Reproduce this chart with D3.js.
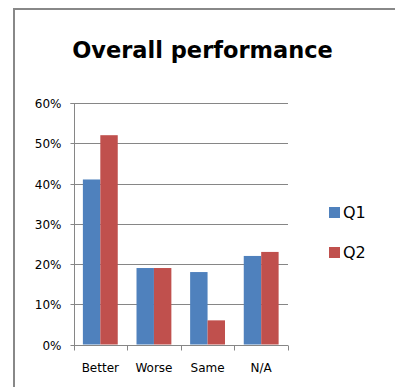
<!DOCTYPE html>
<html>
<head>
<meta charset="utf-8">
<script src="https://cdn.jsdelivr.net/npm/d3@7"></script>
<style>
  html, body { margin: 0; padding: 0; background: #fff; }
  svg { display: block; }
</style>
</head>
<body>
<svg id="chart" width="395" height="387"></svg>
<script>
const title = "Overall performance";
const categories = ["Better", "Worse", "Same", "N/A"];
const seriesNames = ["Q1", "Q2"];
const q1Values = [0.41, 0.19, 0.18, 0.22];
const q2Values = [0.52, 0.19, 0.06, 0.23];
const yTicks = [0, 0.1, 0.2, 0.3, 0.4, 0.5, 0.6];
const colors = ["#4F81BD", "#C0504D"];

const svg = d3.select("#chart");
const W = 395, H = 387;
const plot = { left: 73.5, right: 288, top: 103, bottom: 344.5 };

// Frame (only top and left visible in the crop)
svg.append("path")
  .attr("d", `M14,${H} L14,9 L${W},9`)
  .attr("fill", "none").attr("stroke", "#888").attr("stroke-width", 2);

// Title
svg.append("text")
  .attr("x", 202.5).attr("y", 58)
  .attr("text-anchor", "middle")
  .attr("font-family", "DejaVu Sans")
  .attr("font-weight", "bold")
  .attr("font-size", "22.5px")
  .attr("fill", "#000")
  .text(title);

const x0 = d3.scaleBand().domain(categories).range([plot.left, plot.right]).paddingInner(0).paddingOuter(0);
const inner = 0.65;
const x1 = d3.scaleBand().domain(seriesNames)
  .range([0, x0.bandwidth() * inner]);
const y = d3.scaleLinear().domain([0, 0.6]).range([plot.bottom, plot.top]);

// Gridlines
svg.append("g").selectAll("line").data(yTicks.filter(d => d > 0)).join("line")
  .attr("x1", plot.left).attr("x2", plot.right)
  .attr("y1", d => Math.round(y(d)) + 0.5).attr("y2", d => Math.round(y(d)) + 0.5)
  .attr("stroke", "#868686").attr("stroke-width", 1);

// Bars
const data = categories.map((c, i) => ({ c, vals: [q1Values[i], q2Values[i]] }));
const groups = svg.append("g").selectAll("g").data(data).join("g")
  .attr("transform", d => `translate(${x0(d.c) + x0.bandwidth() * (1 - inner) / 2},0)`);
groups.selectAll("rect").data(d => d.vals.map((v, j) => ({ v, s: seriesNames[j], j })))
  .join("rect")
  .attr("x", d => x1(d.s))
  .attr("width", x1.bandwidth())
  .attr("y", d => y(d.v))
  .attr("height", d => y(0) - y(d.v))
  .attr("fill", d => colors[d.j]);

// Y axis
const yAxis = d3.axisLeft(y).tickValues(yTicks).tickFormat(d3.format(".0%")).tickSize(4).tickPadding(9);
const yg = svg.append("g").attr("transform", `translate(${Math.round(plot.left) + 0.5},0)`).call(yAxis);
yg.select(".domain").attr("stroke", "#868686").attr("d", `M-4,${Math.round(plot.top)+0.5}H0V${Math.round(plot.bottom)+0.5}`);
yg.selectAll(".tick line").attr("stroke", "#868686");
yg.selectAll(".tick").attr("transform", d => `translate(0,${Math.round(y(d)) + 0.5})`);
yg.selectAll("text").attr("font-family", "DejaVu Sans").attr("font-size", "12px").attr("fill", "#000").attr("dy", "0.36em");

// X axis
const xg = svg.append("g").attr("transform", `translate(0,${Math.round(plot.bottom) + 0.5})`);
xg.append("line").attr("x1", plot.left).attr("x2", plot.right).attr("y1", 0).attr("y2", 0).attr("stroke", "#868686");
const boundaries = [x0.range()[0]].concat(categories.map(c => x0(c) + x0.bandwidth()));
xg.selectAll("line.tk").data(boundaries).join("line").attr("class", "tk")
  .attr("x1", d => Math.round(d) + 0.5).attr("x2", d => Math.round(d) + 0.5)
  .attr("y1", 0).attr("y2", 5).attr("stroke", "#868686");
xg.selectAll("text").data(categories).join("text")
  .attr("x", d => x0(d) + x0.bandwidth() / 2)
  .attr("y", 26)
  .attr("text-anchor", "middle")
  .attr("font-family", "DejaVu Sans").attr("font-size", "12px").attr("fill", "#000")
  .text(d => d);

// Legend
const legend = svg.append("g").selectAll("g").data(seriesNames).join("g")
  .attr("transform", (d, i) => `translate(329,${207 + i * 40})`);
legend.append("rect").attr("width", 11).attr("height", 11).attr("fill", (d, i) => colors[i]);
legend.append("text").attr("x", 14).attr("y", 11)
  .attr("font-family", "DejaVu Sans").attr("font-size", "16px").attr("fill", "#000")
  .text(d => d);
</script>
</body>
</html>
